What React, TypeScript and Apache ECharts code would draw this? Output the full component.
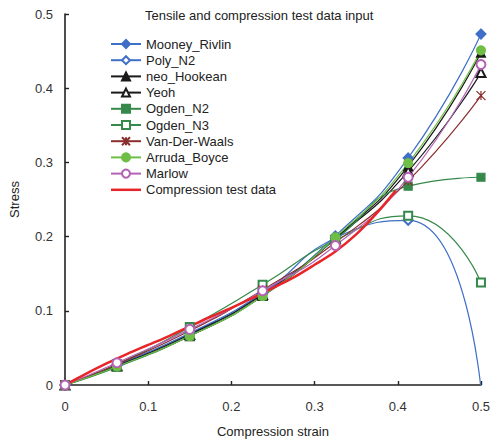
import React, { useEffect, useRef } from "react";
import * as echarts from "echarts";

const strain = [0, 0.0625, 0.15, 0.2375, 0.325, 0.4125, 0.5];
const mooneyRivlin = [0, 0.027, 0.069, 0.123, 0.201, 0.306, 0.473];
const polyN2 = [0, 0.027, 0.07, 0.124, 0.198, 0.222, -0.005];
const neoHookean = [0, 0.025, 0.066, 0.12, 0.198, 0.295, 0.448];
const yeoh = [0, 0.026, 0.068, 0.122, 0.197, 0.288, 0.421];
const ogdenN2 = [0, 0.024, 0.066, 0.12, 0.196, 0.268, 0.28];
const ogdenN3 = [0, 0.028, 0.078, 0.135, 0.195, 0.228, 0.138];
const vanDerWaals = [0, 0.028, 0.073, 0.128, 0.192, 0.275, 0.39];
const arrudaBoyce = [0, 0.025, 0.066, 0.12, 0.199, 0.299, 0.451];
const marlow = [0, 0.03, 0.075, 0.127, 0.188, 0.28, 0.432];

const testStrain = [0, 0.025, 0.05, 0.075, 0.1, 0.125, 0.15, 0.175, 0.2, 0.225, 0.25, 0.275, 0.3, 0.325, 0.35, 0.375, 0.3975];
const testStress = [0, 0.015, 0.029, 0.042, 0.054, 0.066, 0.079, 0.092, 0.104, 0.117, 0.131, 0.145, 0.162, 0.18, 0.203, 0.232, 0.262];

const xTicks = [0, 0.1, 0.2, 0.3, 0.4, 0.5];
const yTicks = [0, 0.1, 0.2, 0.3, 0.4, 0.5];

const FONT = "Liberation Sans, Arial, sans-serif";

const pair = (xs: number[], ys: number[]) => xs.map((x, i) => [x, ys[i]]);

const BLUE = "#3f6fc6";
const BLACK = "#1a1a1a";
const GREEN = "#35894a";
const VDW = "#8b2e2e";
const LGREEN = "#6fbe45";
const PURPLE = "#b462b4";
const RED = "#e8262a";
const ASTER = "path://M0,0L10,10M10,0L0,10M5,0L5,10";

function mk(name: string, ys: number[], color: string, symbol: string, size: number) {
  return {
    name,
    type: "line",
    smooth: 0.55,
    data: pair(strain, ys),
    symbol,
    symbolSize: size,
    clip: true,
    lineStyle: { color, width: 1.2 },
    itemStyle: { color, borderColor: color, borderWidth: 1.2 },
    emphasis: { disabled: true },
  };
}

export default function App() {
  const ref = useRef<HTMLDivElement>(null);
  useEffect(() => {
    if (!ref.current) return;
    const chart = echarts.init(ref.current, null, { renderer: "svg" });
    const series: any[] = [
      mk("Mooney_Rivlin", mooneyRivlin, BLUE, "diamond", 10),
      mk("Poly_N2", polyN2, BLUE, "emptyDiamond", 9),
      mk("neo_Hookean", neoHookean, BLACK, "triangle", 9),
      mk("Yeoh", yeoh, BLACK, "emptyTriangle", 9),
      mk("Ogden_N2", ogdenN2, GREEN, "rect", 8),
      mk("Ogden_N3", ogdenN3, GREEN, "emptyRect", 8),
      mk("Van-Der-Waals", vanDerWaals, VDW, ASTER, 9),
      mk("Arruda_Boyce", arrudaBoyce, LGREEN, "circle", 9),
      mk("Marlow", marlow, PURPLE, "emptyCircle", 9),
      {
        name: "Compression test data",
        type: "line",
        smooth: 0.3,
        data: pair(testStrain, testStress),
        symbol: "none",
        lineStyle: { color: RED, width: 2.5 },
        itemStyle: { color: RED },
        emphasis: { disabled: true },
        z: 3,
      },
    ];
    const legendData = series.map((s) =>
      s.symbol === "none"
        ? { name: s.name, icon: "path://M0,0L30,0L30,2.5L0,2.5Z" }
        : { name: s.name }
    );
    chart.setOption({
      animation: false,
      textStyle: { fontFamily: FONT },
      title: {
        text: "Tensile and compression test data input",
        left: 140,
        top: 4,
        textStyle: { fontFamily: FONT, fontSize: 13, fontWeight: "normal", color: "#222" },
      },
      legend: {
        orient: "vertical",
        left: 105,
        top: 32,
        itemWidth: 30,
        itemHeight: 10,
        itemGap: 2.2,
        textStyle: { fontFamily: FONT, fontSize: 13, color: "#222", lineHeight: 14 },
        data: legendData,
      },
      grid: { left: 60, right: 9, top: 14, bottom: 58, containLabel: false },
      xAxis: {
        type: "value",
        min: xTicks[0],
        max: xTicks[xTicks.length - 1],
        interval: 0.1,
        name: "Compression strain",
        nameLocation: "middle",
        nameGap: 40,
        nameTextStyle: { fontFamily: FONT, fontSize: 13, color: "#222" },
        axisLine: { onZero: false, lineStyle: { color: "#222", width: 1.6 } },
        axisTick: { inside: true, length: 4, lineStyle: { color: "#222", width: 1.4 } },
        axisLabel: { fontFamily: FONT, fontSize: 13, color: "#333", margin: 15 },
        splitLine: { show: false },
      },
      yAxis: {
        type: "value",
        min: yTicks[0],
        max: yTicks[yTicks.length - 1],
        interval: 0.1,
        name: "Stress",
        nameLocation: "middle",
        nameGap: 44,
        nameTextStyle: { fontFamily: FONT, fontSize: 13, color: "#222" },
        axisLine: { show: true, onZero: false, lineStyle: { color: "#222", width: 1.6 } },
        axisTick: { show: true, inside: true, length: 4, lineStyle: { color: "#222", width: 1.4 } },
        axisLabel: { fontFamily: FONT, fontSize: 13, color: "#333", margin: 12 },
        splitLine: { show: false },
      },
      series,
    });
    return () => chart.dispose();
  }, []);
  return (
    <div
      ref={ref}
      style={{ position: "fixed", left: 0, top: 0, width: 493, height: 443, background: "#fff" }}
    />
  );
}
